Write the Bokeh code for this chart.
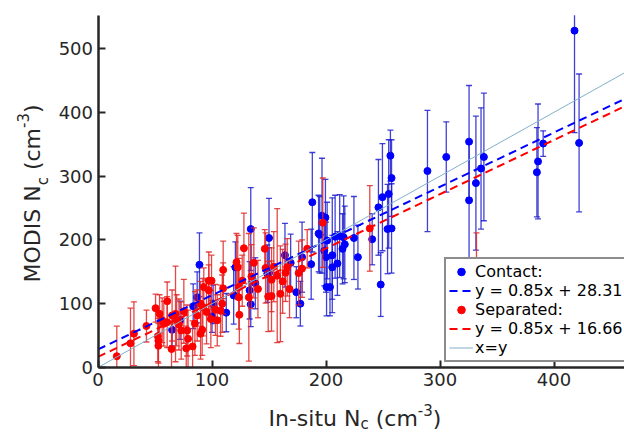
import numpy as np
from bokeh.plotting import figure
from bokeh.models import (ColumnDataSource, Range1d, Label, Legend, LegendItem, FixedTicker)
from bokeh.embed import file_html
from bokeh.resources import INLINE

# ---------------- data ----------------
contact_x = [65, 72, 83.5, 87, 89, 100, 101, 112.5, 119, 120.5, 133, 134, 134, 138, 148.5,
             150, 150, 164, 169, 174, 177.5, 179, 187, 188, 193.5, 196.5, 199.5, 194.5, 198.5, 200,
             201, 200.5, 203.5, 205.5, 205.5, 208, 210, 212, 215.5, 216.5, 214.5, 224.5, 228, 240.5, 248,
             246, 249.5, 255, 254, 257.5, 256.5, 257.5, 289, 305.5, 325.5, 325.5, 331.5, 336, 338.5, 385,
             386, 390.5, 418, 422]
contact_y = [59, 74, 96, 110, 161, 80, 99, 86, 113, 157, 121, 99, 217, 132, 147,
             203, 148, 176, 164, 118, 100, 173, 162, 259, 210, 238, 235, 208, 183, 173,
             199, 126, 126, 176, 157, 205, 163, 206, 204, 193, 186, 203, 173, 201, 130,
             251, 267, 272, 217, 218, 332, 297, 308, 330, 354, 262, 289, 312, 330, 306,
             323, 351, 528, 352]
contact_err = [25, 30, 35, 40, 50, 25, 30, 30, 45, 40, 45, 35, 65, 40, 45,
               62, 40, 50, 45, 40, 35, 55, 55, 78, 60, 90, 60, 60, 55, 55,
               60, 45, 45, 90, 50, 65, 50, 65, 65, 60, 55, 65, 50, 40, 50,
               75, 84, 85, 70, 70, 40, 60, 95, 55, 88, 90, 105, 95, 100, 70,
               90, 20, 160, 108]

sep_x = [16.5, 28.5, 31.5, 42.5, 50.5, 52.5, 53, 53, 54, 56.3, 57.7, 60.7, 60.7, 64.5, 65,
         68, 69, 71, 73, 75.3, 77.4, 78.2, 79, 83, 85, 87, 90, 91.4, 90, 92,
         92.8, 95.2, 97.2, 99.6, 97.2, 99, 103, 104.6, 107.5, 109, 109.8, 109.8, 121.5, 122.6, 123.5,
         123.5, 124, 126.5, 128, 132.3, 134.6, 136.7, 140.3, 146.3, 147, 149.3, 152.2, 152.2, 154.2, 157.2,
         160, 162, 166, 164.5, 168, 176, 179, 183.5, 197.2, 238.4, 332]
sep_y = [17.7, 38, 53, 65, 93, 49, 42, 34, 84, 74, 68.5, 104, 71, 29, 81.5,
         84, 74, 67.4, 58, 88, 30, 58, 45, 33, 69, 81.5, 53, 59, 100, 94.5,
         126, 87, 136, 136, 121, 76, 90.4, 74, 89, 100, 153, 124, 165, 157, 126,
         110, 82.6, 136, 187, 110, 142.6, 164, 123, 186, 156, 111.3, 137.5, 112, 158, 144,
         115.5, 135, 157, 148.5, 123, 148, 155, 186, 227, 218, 121]
sep_err = [47, 55, 50, 25, 22, 40, 35, 35, 30, 35, 35, 30, 40, 40, 40,
           75, 40, 40, 45, 50, 35, 40, 45, 40, 50, 40, 40, 40, 35, 45,
           30, 50, 45, 40, 40, 45, 40, 40, 40, 45, 45, 40, 45, 50, 45,
           50, 45, 40, 55, 100, 50, 55, 45, 30, 55, 55, 50, 55, 55, 105,
           75, 50, 45, 45, 45, 50, 45, 30, 70, 67, 90]

series_labels = ["Contact:", "Separated:"]
fit_labels = ["y = 0.85x + 28.31", "y = 0.85x + 16.66"]
fit_slope = [0.85, 0.85]
fit_intercept = [28.31, 16.66]
identity_label = "x=y"
x_ticks = [0, 100, 200, 300, 400]
y_ticks = [0, 100, 200, 300, 400, 500]

assert len(contact_x) == len(contact_y) == len(contact_err)
assert len(sep_x) == len(sep_y) == len(sep_err)

# ---------------- layout / style ----------------
W, H = 624, 432
X0_PX, Y0_PX = 97.5, 367.0        # canvas position of the data origin
SX, SY = 1.14, 0.638              # pixels per data unit
X_START, X_END = -X0_PX / SX, (W - X0_PX) / SX
Y_START, Y_END = -(H - Y0_PX) / SY, Y0_PX / SY
Y_TOP = 552                        # top of the y axis
FONT = "DejaVu Sans"
TXT = "#262626"
BLUE, RED = "#0000ff", "#ff0000"
BLUE_BAR, RED_BAR = "#2020d0", "#e02828"
ID_COLOR = "#80b0cc"

p = figure(width=W, height=H, x_range=Range1d(X_START, X_END), y_range=Range1d(Y_START, Y_END),
           output_backend="svg", toolbar_location=None, min_border=0)
p.extra_x_ranges = {"px": Range1d(0, W)}
p.extra_y_ranges = {"py": Range1d(0, H)}
p.grid.visible = False
p.outline_line_color = None
p.background_fill_color = "white"
p.border_fill_color = "white"

for ax in (p.xaxis[0], p.yaxis[0]):
    ax.fixed_location = 0
    ax.axis_line_width = 2.5
    ax.axis_line_color = TXT
    ax.major_tick_in = 7
    ax.major_tick_out = 0
    ax.major_tick_line_width = 2
    ax.major_tick_line_color = TXT
    ax.minor_tick_line_color = None
    ax.major_label_text_font = FONT
    ax.major_label_text_font_size = "18px"
    ax.major_label_text_color = TXT
    ax.major_label_standoff = 5
p.xaxis.ticker = FixedTicker(ticks=x_ticks)
p.yaxis.ticker = FixedTicker(ticks=y_ticks)
p.xaxis.bounds = (0, X_END)
p.yaxis.bounds = (0, Y_TOP)


def draw_series(xs, ys, errs, color, bar_color):
    lo = [max(y - e, 0) for y, e in zip(ys, errs)]
    hi = [min(y + e, Y_TOP) for y, e in zip(ys, errs)]
    cap_lo = [y - e if y - e >= 0 else np.nan for y, e in zip(ys, errs)]
    cap_hi = [y + e if y + e <= Y_TOP else np.nan for y, e in zip(ys, errs)]
    src = ColumnDataSource(dict(x=xs, y=ys, lo=lo, hi=hi, cap_lo=cap_lo, cap_hi=cap_hi))
    kw = dict(line_color=bar_color, line_alpha=0.85, line_width=1.3)
    p.segment(x0="x", y0="lo", x1="x", y1="hi", source=src, **kw)
    p.scatter("x", "cap_lo", source=src, marker="dash", size=6, **kw)
    p.scatter("x", "cap_hi", source=src, marker="dash", size=6, **kw)
    return p.scatter("x", "y", source=src, size=7, fill_color=color, line_color=color)


r_contact = draw_series(contact_x, contact_y, contact_err, BLUE, BLUE_BAR)
r_sep = draw_series(sep_x, sep_y, sep_err, RED, RED_BAR)

fx = [0, X_END]
fit_renderers = []
for slope, icpt, col in zip(fit_slope, fit_intercept, [BLUE, RED]):
    fit_renderers.append(p.line(fx, [slope * v + icpt for v in fx], line_color=col,
                                line_width=2, line_dash="8 5"))
r_id = p.line(fx, fx, line_color=ID_COLOR, line_width=1)

# ---------------- legend ----------------
LEG_X, LEG_Y, PAD, ROW, GW = 444, 70, 3, 19, 24
legend = Legend(items=[
    LegendItem(label=series_labels[0], renderers=[r_contact]),
    LegendItem(label=fit_labels[0], renderers=[fit_renderers[0]]),
    LegendItem(label=series_labels[1], renderers=[r_sep]),
    LegendItem(label=fit_labels[1], renderers=[fit_renderers[1]]),
    LegendItem(label=identity_label, renderers=[r_id]),
], location=(LEG_X, LEG_Y), margin=0, padding=PAD, spacing=0,
   glyph_width=GW, glyph_height=ROW, label_height=ROW, label_standoff=2,
   label_text_font=FONT, label_text_font_size="16px", label_text_color="black",
   border_line_color="#1a1a1a", border_line_width=2.5,
   background_fill_color="white", background_fill_alpha=1.0)
p.add_layout(legend)

# error-bar icons on top of the legend's "Contact:" and "Separated:" rows
leg_h = 2 * PAD + 5 * ROW
icon_x = LEG_X + PAD + GW / 2
for row, col, bcol in [(0, BLUE, BLUE_BAR), (2, RED, RED_BAR)]:
    cy = LEG_Y + leg_h - PAD - ROW / 2 - row * ROW
    p.rect(x=[icon_x], y=[cy], width=10, height=18, fill_color="white", line_color=None,
           x_range_name="px", y_range_name="py", level="overlay")
    p.segment(x0=[icon_x], y0=[cy - 6], x1=[icon_x], y1=[cy + 6], line_color=bcol,
              line_width=1.3, x_range_name="px", y_range_name="py", level="overlay")
    p.scatter([icon_x, icon_x], [cy - 6, cy + 6], marker="dash", size=5, line_color=bcol,
              line_width=1.3, x_range_name="px", y_range_name="py", level="overlay")
    p.scatter([icon_x], [cy], size=5.5, fill_color=col, line_color=col,
              x_range_name="px", y_range_name="py", level="overlay")

# ---------------- axis titles (with sub/superscripts) ----------------
def lab(text, x, y, size, angle=0.0):
    p.add_layout(Label(x=x, y=y, x_units="screen", y_units="screen", text=text,
                       text_font=FONT, text_font_size=f"{size}px", text_color=TXT,
                       text_align="left", text_baseline="alphabetic", angle=angle))

BIG, SMALL = 22, 15
SP = 0.318 * BIG
# x title: In-situ N_c (cm^-3)
x0, yb = 268, 14
lab("In-situ N", x0, yb, BIG)
x1 = x0 + 4.181 * BIG
lab("c", x1, yb - 5, SMALL)
x2 = x1 + 0.55 * SMALL + SP
lab("(cm", x2, yb, BIG)
x3 = x2 + 1.914 * BIG
lab("-3", x3, yb + 9, SMALL)
x4 = x3 + 0.997 * SMALL
lab(")", x4, yb, BIG)

# y title: MODIS N_c (cm^-3), rotated
xb, y0 = 32, 150
ang = np.pi / 2
lab("MODIS N", xb, y0, BIG, ang)
y1 = y0 + 4.416 * BIG
lab("c", xb + 10, y1, SMALL, ang)
y2 = y1 + 0.55 * SMALL + SP
lab("(cm", xb, y2, BIG, ang)
y3 = y2 + 1.914 * BIG
lab("-3", xb - 10, y3, SMALL, ang)
y4 = y3 + 0.997 * SMALL
lab(")", xb, y4, BIG, ang)

open("out.html", "w").write(file_html(p, INLINE))
